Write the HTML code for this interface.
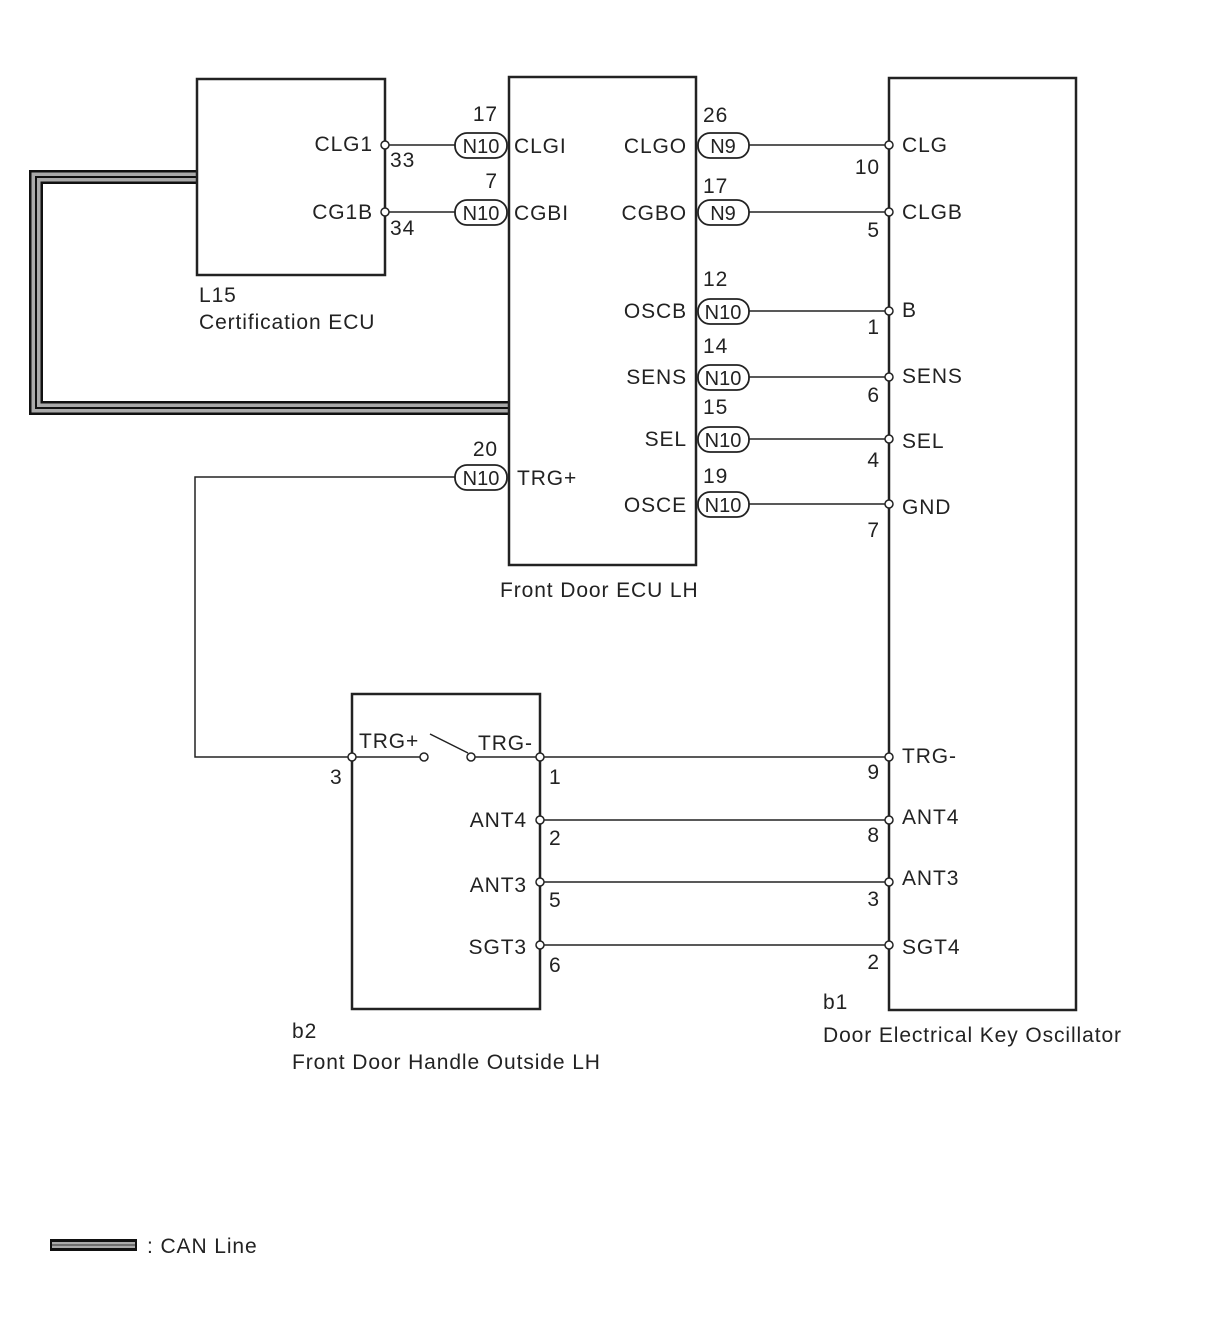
<!DOCTYPE html>
<html><head><meta charset="utf-8"><style>
html,body{margin:0;padding:0;background:#fff;}
svg{display:block}
text{font-family:"Liberation Sans",Arial,sans-serif;font-size:21px;letter-spacing:0.9px;fill:#222}
text.p{letter-spacing:0;font-size:20px}
</style></head><body>
<svg width="1210" height="1328" viewBox="0 0 1210 1328" xmlns="http://www.w3.org/2000/svg">
<g fill="none" stroke="#222">
<path d="M197 177 H36 V408 H509" stroke="#111" stroke-width="14"/>
<path d="M197 177 H36 V408 H509" stroke="#aaa" stroke-width="9"/>
<path d="M197 177 H36 V408 H509" stroke="#111" stroke-width="2"/>
<rect x="197" y="79" width="188" height="196" stroke-width="2.5"/>
<rect x="509" y="77" width="187" height="488" stroke-width="2.5"/>
<rect x="889" y="78" width="187" height="932" stroke-width="2.5"/>
<rect x="352" y="694" width="188" height="315" stroke-width="2.5"/>
<g stroke-width="1.5">
<line x1="389" y1="145" x2="455" y2="145"/>
<line x1="389" y1="212" x2="455" y2="212"/>
<line x1="749" y1="145" x2="885" y2="145"/>
<line x1="749" y1="212" x2="885" y2="212"/>
<line x1="749" y1="311" x2="885" y2="311"/>
<line x1="749" y1="377" x2="885" y2="377"/>
<line x1="749" y1="439" x2="885" y2="439"/>
<line x1="749" y1="504" x2="885" y2="504"/>
<path d="M455 477 H195 V757 H348"/>
<line x1="356" y1="757" x2="420" y2="757"/>
<line x1="475" y1="757" x2="536" y2="757"/>
<line x1="430" y1="734" x2="468" y2="753"/>
<line x1="544" y1="757" x2="885" y2="757"/>
<line x1="544" y1="820" x2="885" y2="820"/>
<line x1="544" y1="882" x2="885" y2="882"/>
<line x1="544" y1="945" x2="885" y2="945"/>
</g>
<g stroke-width="1.8">
<rect x="455" y="133" width="52" height="25" rx="12"/>
<rect x="455" y="200" width="52" height="25" rx="12"/>
<rect x="455" y="465" width="52" height="25" rx="12"/>
<rect x="698" y="133" width="51" height="25" rx="12"/>
<rect x="698" y="200" width="51" height="25" rx="12"/>
<rect x="698" y="299" width="51" height="25" rx="12"/>
<rect x="698" y="365" width="51" height="25" rx="12"/>
<rect x="698" y="427" width="51" height="25" rx="12"/>
<rect x="698" y="492" width="51" height="25" rx="12"/>
</g>
<g fill="#fff" stroke-width="1.5">
<circle cx="385" cy="145" r="4"/><circle cx="385" cy="212" r="4"/>
<circle cx="889" cy="145" r="4"/><circle cx="889" cy="212" r="4"/>
<circle cx="889" cy="311" r="4"/><circle cx="889" cy="377" r="4"/>
<circle cx="889" cy="439" r="4"/><circle cx="889" cy="504" r="4"/>
<circle cx="889" cy="757" r="4"/><circle cx="889" cy="820" r="4"/>
<circle cx="889" cy="882" r="4"/><circle cx="889" cy="945" r="4"/>
<circle cx="352" cy="757" r="4"/><circle cx="424" cy="757" r="4"/>
<circle cx="471" cy="757" r="4"/>
<circle cx="540" cy="757" r="4"/><circle cx="540" cy="820" r="4"/>
<circle cx="540" cy="882" r="4"/><circle cx="540" cy="945" r="4"/>
</g>
<line x1="50" y1="1245" x2="137" y2="1245" stroke="#111" stroke-width="12"/>
<line x1="52" y1="1245" x2="135" y2="1245" stroke="#aaa" stroke-width="6"/>
<line x1="52" y1="1245" x2="135" y2="1245" stroke="#333" stroke-width="1"/>
</g>
<g>
<text x="373" y="151" text-anchor="end">CLG1</text>
<text x="373" y="219" text-anchor="end">CG1B</text>
<text x="390" y="167">33</text>
<text x="390" y="235">34</text>
<text x="199" y="302">L15</text>
<text x="199" y="329">Certification ECU</text>
<text x="498" y="121" text-anchor="end">17</text>
<text x="498" y="188" text-anchor="end">7</text>
<text x="498" y="456" text-anchor="end">20</text>
<text class="p" x="481" y="153" text-anchor="middle">N10</text>
<text class="p" x="481" y="220" text-anchor="middle">N10</text>
<text class="p" x="481" y="485" text-anchor="middle">N10</text>
<text x="514" y="153">CLGI</text>
<text x="514" y="220">CGBI</text>
<text x="517" y="485">TRG+</text>
<text x="687" y="153" text-anchor="end">CLGO</text>
<text x="687" y="220" text-anchor="end">CGBO</text>
<text x="687" y="318" text-anchor="end">OSCB</text>
<text x="687" y="384" text-anchor="end">SENS</text>
<text x="687" y="446" text-anchor="end">SEL</text>
<text x="687" y="512" text-anchor="end">OSCE</text>
<text x="703" y="122">26</text>
<text x="703" y="193">17</text>
<text x="703" y="286">12</text>
<text x="703" y="353">14</text>
<text x="703" y="414">15</text>
<text x="703" y="483">19</text>
<text class="p" x="723" y="153" text-anchor="middle">N9</text>
<text class="p" x="723" y="220" text-anchor="middle">N9</text>
<text class="p" x="723" y="319" text-anchor="middle">N10</text>
<text class="p" x="723" y="385" text-anchor="middle">N10</text>
<text class="p" x="723" y="447" text-anchor="middle">N10</text>
<text class="p" x="723" y="512" text-anchor="middle">N10</text>
<text x="500" y="597">Front Door ECU LH</text>
<text x="902" y="152">CLG</text>
<text x="902" y="219">CLGB</text>
<text x="902" y="317">B</text>
<text x="902" y="383">SENS</text>
<text x="902" y="448">SEL</text>
<text x="902" y="514">GND</text>
<text x="880" y="174" text-anchor="end">10</text>
<text x="880" y="237" text-anchor="end">5</text>
<text x="880" y="334" text-anchor="end">1</text>
<text x="880" y="402" text-anchor="end">6</text>
<text x="880" y="467" text-anchor="end">4</text>
<text x="880" y="537" text-anchor="end">7</text>
<text x="902" y="763">TRG-</text>
<text x="902" y="824">ANT4</text>
<text x="902" y="885">ANT3</text>
<text x="902" y="954">SGT4</text>
<text x="880" y="779" text-anchor="end">9</text>
<text x="880" y="842" text-anchor="end">8</text>
<text x="880" y="906" text-anchor="end">3</text>
<text x="880" y="969" text-anchor="end">2</text>
<text x="823" y="1009">b1</text>
<text x="823" y="1042">Door Electrical Key Oscillator</text>
<text x="359" y="748">TRG+</text>
<text x="478" y="750">TRG-</text>
<text x="330" y="784">3</text>
<text x="549" y="784">1</text>
<text x="527" y="827" text-anchor="end">ANT4</text>
<text x="527" y="892" text-anchor="end">ANT3</text>
<text x="527" y="954" text-anchor="end">SGT3</text>
<text x="549" y="845">2</text>
<text x="549" y="907">5</text>
<text x="549" y="972">6</text>
<text x="292" y="1038">b2</text>
<text x="292" y="1069">Front Door Handle Outside LH</text>
<text x="147" y="1253">: CAN Line</text>
</g>
</svg>
</body></html>
